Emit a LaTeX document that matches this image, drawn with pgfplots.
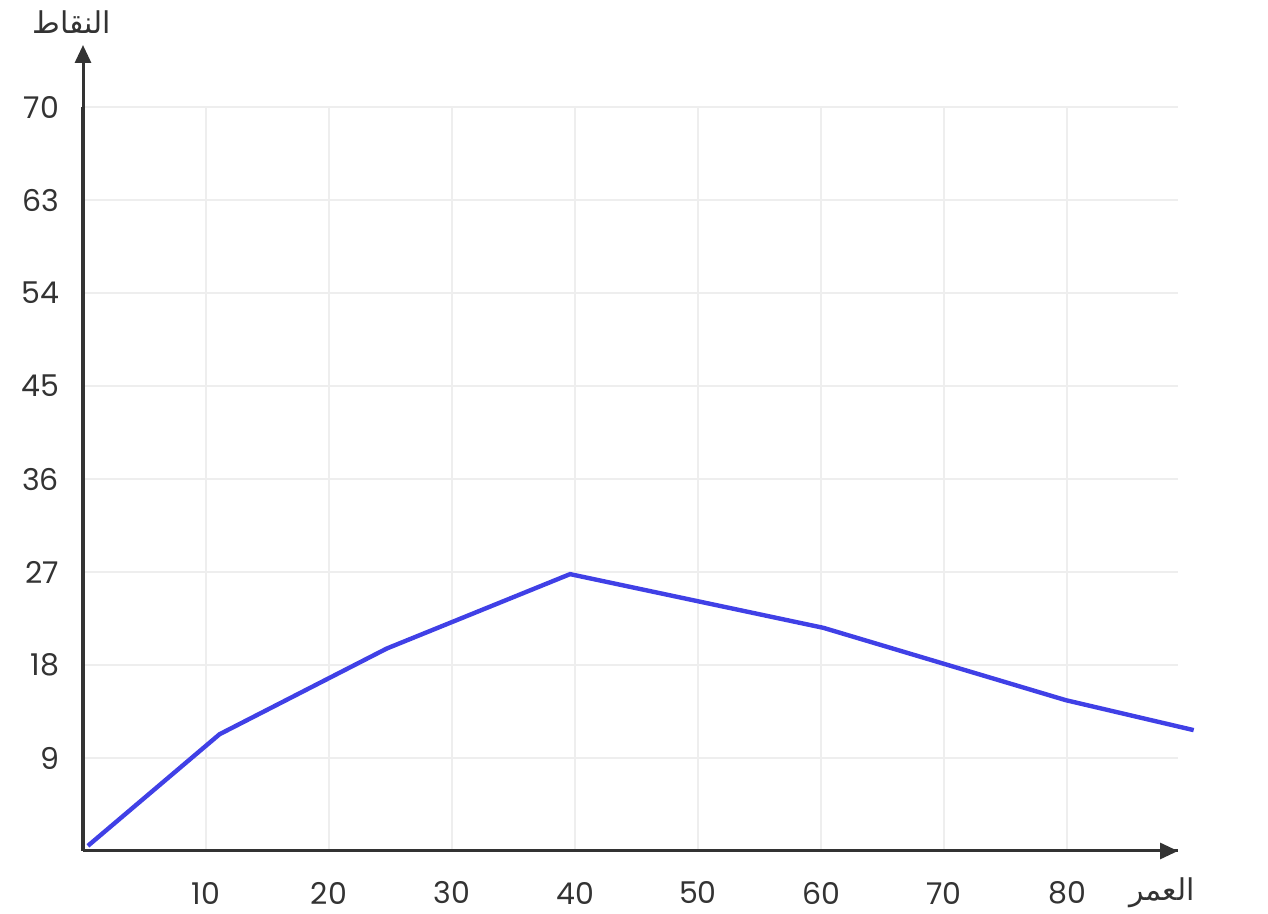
\documentclass[border=0pt]{standalone}
\usepackage{pgfplots}
\pgfplotsset{compat=1.18}
\usepackage{fontspec}
\setmainfont{Poppins}
\newfontfamily\arabicfont[Script=Arabic]{DejaVu Sans}
\TeXXeTstate=1
\usetikzlibrary{arrows.meta}
\definecolor{axisgray}{HTML}{333333}
\definecolor{gridgray}{HTML}{EEEEEE}
\definecolor{lineblue}{HTML}{4040E6}
\begin{document}
\begin{tikzpicture}
\useasboundingbox (-41.5pt,-31.5pt) rectangle (592.5pt,425.5pt);
\begin{axis}[
    at={(0pt,0pt)}, anchor=south west,
    scale only axis,
    width=547.35pt, height=371.9pt,
    xmin=0, xmax=89, ymin=0, ymax=72,
    axis lines=left,
    axis line style={axisgray, line width=1.5pt, -},
    xtick={10,20,...,80},
    ytick={9,18,27,36,45,54,63,72},
    yticklabels={9,18,27,36,45,54,63,70},
    major tick length=0pt,
    grid=major,
    major grid style={gridgray, line width=1pt},
    tick label style={font=\fontsize{15}{18}\selectfont, text=axisgray},
    xticklabel style={anchor=center, yshift=-21pt},
    yticklabel style={anchor=east, xshift=-8.5pt},
    /pgf/number format/assume math mode=true,
    clip=false,
]
\addplot[lineblue, line width=2.2pt] coordinates {
    (0.4,0.5) (11.1,11.3) (24.7,19.6) (39.6,26.8) (60.2,21.6) (79.9,14.6) (90.3,11.7)
};
\end{axis}
\draw[axisgray, line width=1.5pt, -{Triangle[length=9pt,width=8pt]}] (0pt,0pt) -- (0pt,403pt);
\draw[axisgray, line width=1.5pt, -{Triangle[length=9pt,width=8pt]}] (0pt,0pt) -- (547.5pt,0pt);
\node[text=axisgray, font=\arabicfont\fontsize{15}{18}\selectfont] at (-5.5pt,414.5pt) {\beginR النقاط\endR};
\node[text=axisgray, font=\arabicfont\fontsize{15}{18}\selectfont] at (539.5pt,-21pt) {\beginR العمر\endR};
\end{tikzpicture}
\end{document}
